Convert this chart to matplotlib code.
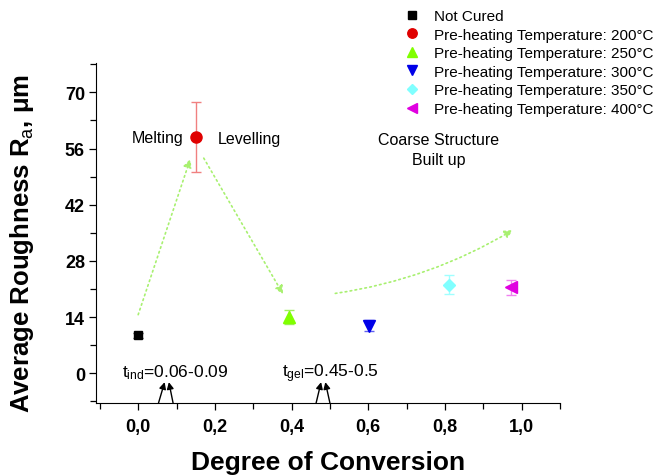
import matplotlib
matplotlib.use("Agg")
import matplotlib.pyplot as plt
from matplotlib.ticker import MultipleLocator, FuncFormatter

plt.rcParams['font.family'] = ['Liberation Sans', 'DejaVu Sans']
plt.rcParams['mathtext.fontset'] = 'custom'
plt.rcParams['mathtext.rm'] = 'Liberation Sans'
plt.rcParams['mathtext.it'] = 'Liberation Sans'
plt.rcParams['mathtext.bf'] = 'Liberation Sans:bold'

# data
labels = ['Not Cured',
          'Pre-heating Temperature: 200°C',
          'Pre-heating Temperature: 250°C',
          'Pre-heating Temperature: 300°C',
          'Pre-heating Temperature: 350°C',
          'Pre-heating Temperature: 400°C']
conversion = [0.0, 0.15, 0.393, 0.603, 0.81, 0.973]
roughness = [9.5, 58.9, 14.0, 11.9, 22.1, 21.4]
rough_err = [0.6, 8.8, 1.7, 1.4, 2.4, 1.9]
markers = ['s', 'o', '^', 'v', 'D', '<']
msizes = [6, 8, 8, 8, 6.5, 8]
colors = ['#000000', '#e00000', '#80ff00', '#0000e8', '#80ffff', '#e000e0']
err_colors = ['#404040', '#f08080', '#a0f060', '#6060f0', '#a0ffff', '#f080f0']

# green process arrows (start, end, curvature)
trend_arrows = [((0.0, 14.6), (0.136, 53.4), 0.0),
                ((0.171, 53.6), (0.378, 19.7), 0.0),
                ((0.514, 19.9), (0.977, 35.7), 0.1)]
# black arrows on the axis: (tail x, tip x)
axis_arrows = [(0.053, 0.069), (0.091, 0.080), (0.464, 0.477), (0.500, 0.488)]
tip_y = -2.2

ymin, ymax = -7.4, 77.3
xmin, xmax = -0.11, 1.10

fig = plt.figure(figsize=(6.58, 4.77), dpi=100)
ax = fig.add_axes([96 / 658, 1 - 404 / 477, (560 - 96) / 658, (404 - 64) / 477])

for i in range(len(labels)):
    ax.errorbar(conversion[i], roughness[i], yerr=rough_err[i], fmt='none',
                ecolor=err_colors[i], elinewidth=1, capsize=3.5, capthick=1)
    ax.plot(conversion[i], roughness[i], linestyle='none', marker=markers[i],
            markersize=msizes[i], color=colors[i], label=labels[i])

for start, end, rad in trend_arrows:
    ax.annotate('', xy=end, xytext=start,
                arrowprops=dict(arrowstyle='-|>', color='#a8f070', lw=1.2,
                                linestyle=(0, (1, 2)), mutation_scale=12,
                                shrinkA=0, shrinkB=0,
                                connectionstyle='arc3,rad=%g' % rad))

for tail, tip in axis_arrows:
    ax.annotate('', xy=(tip, tip_y), xytext=(tail, ymin),
                arrowprops=dict(arrowstyle='-|>', color='black', lw=1,
                                mutation_scale=10, shrinkA=0, shrinkB=0))

ax.text(0.052, 58.8, 'Melting', ha='center', va='center', fontsize=11.5)
ax.text(0.289, 58.5, 'Levelling', ha='center', va='center', fontsize=11.5)
ax.text(0.783, 55.8, 'Coarse Structure\nBuilt up', ha='center', va='center',
        fontsize=11.5, multialignment='center', linespacing=1.4)
ax.text(-0.042, -0.7, r'$\mathrm{t_{ind}}$=0.06-0.09', ha='left',
        va='baseline', fontsize=12.5)
ax.text(0.376, -0.7, r'$\mathrm{t_{gel}}$=0.45-0.5', ha='left',
        va='baseline', fontsize=12.5)

ax.set_xlim(xmin, xmax)
ax.set_ylim(ymin, ymax)
ax.spines['top'].set_visible(False)
ax.spines['right'].set_visible(False)
ax.xaxis.set_major_locator(MultipleLocator(0.2))
ax.xaxis.set_minor_locator(MultipleLocator(0.1))
ax.yaxis.set_major_locator(MultipleLocator(14))
ax.yaxis.set_minor_locator(MultipleLocator(7))
ax.xaxis.set_major_formatter(FuncFormatter(lambda v, p: ('%.1f' % v).replace('.', ',')))
ax.tick_params(which='both', direction='out', width=0.9)
ax.tick_params(which='major', length=5)
ax.tick_params(which='minor', length=4)
ax.tick_params(axis='x', labelsize=13, pad=6)
ax.tick_params(axis='y', labelsize=13, pad=3)
for t in ax.get_xticklabels() + ax.get_yticklabels():
    t.set_fontweight('bold')

ax.set_xlabel('Degree of Conversion', fontsize=19, fontweight='bold')
ax.set_ylabel(r'Average Roughness R$_\mathrm{a}$, μm', fontsize=18.5,
              fontweight='bold')
ax.xaxis.set_label_coords(0.5, -0.138)
ax.yaxis.set_label_coords(-0.13, 0.472)

fig.legend(loc='upper left', bbox_to_anchor=(404 / 658, 1 - 10 / 477),
           frameon=False, fontsize=11, handlelength=1.0, handletextpad=0.95,
           borderpad=0, borderaxespad=0, labelspacing=0.3, numpoints=1,
           markerscale=0.85)

fig.savefig('out.png', dpi=100)
